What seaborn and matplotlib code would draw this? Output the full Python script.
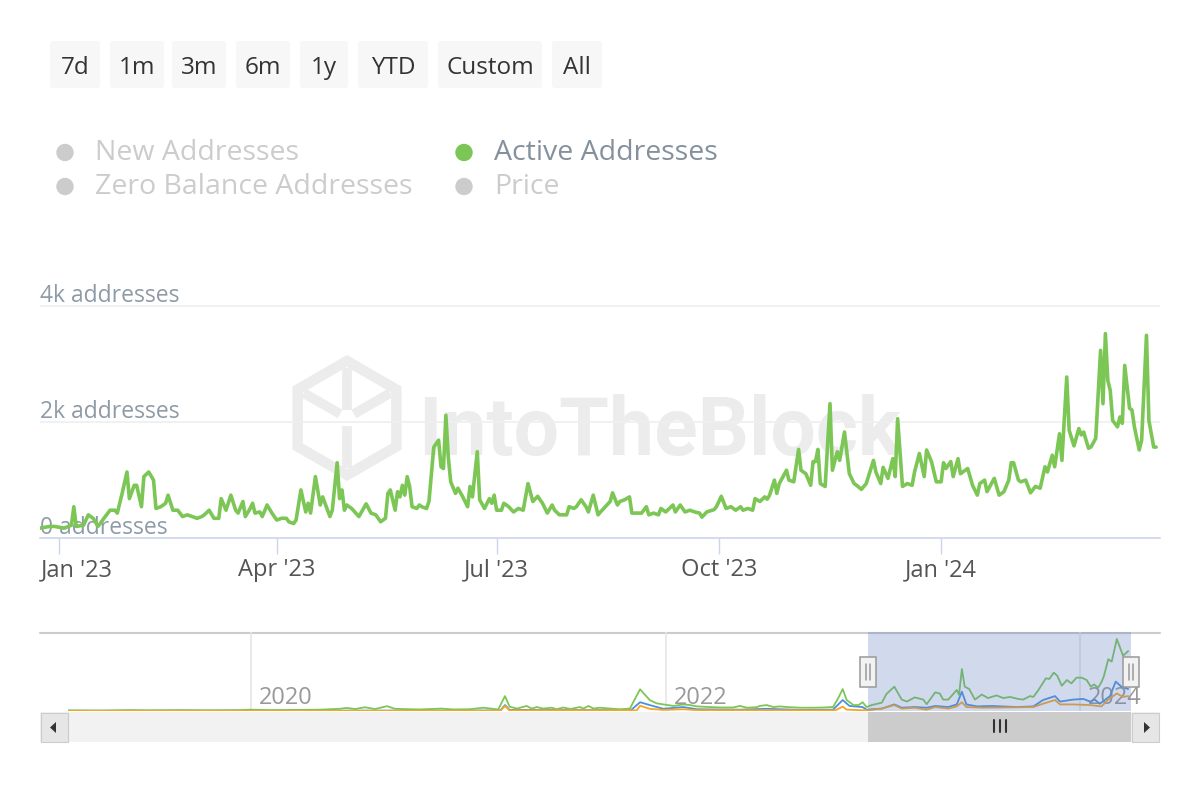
import pandas as pd
import matplotlib
matplotlib.use('Agg')
import matplotlib.pyplot as plt
from matplotlib.patches import FancyBboxPatch, Rectangle, Circle, Polygon, RegularPolygon
from matplotlib.transforms import ScaledTranslation
import numpy as np
import seaborn as sns

# ---- values ----
# main chart: days since 2022-12-24 -> active addresses
main_start = pd.Timestamp('2022-12-24')
active_day = [0, 4, 6, 10, 13, 14, 15, 18, 20, 22, 24, 27, 29, 31, 32, 34, 36, 37, 39, 40,
              42, 43, 45, 47, 48, 50, 52, 53, 55, 57, 59, 61, 63, 65, 67, 68, 70, 72, 74, 75,
              77, 79, 81, 82, 84, 85, 87, 88, 89, 91, 92, 94, 96, 98,
              100, 102, 103, 105, 106, 108, 110, 111, 112, 114, 116, 117, 120, 121, 123, 124,
              125, 126, 127, 129, 132, 135, 137, 139, 141, 143, 144, 145, 147, 148, 149, 150,
              151, 152, 153, 154, 156, 157, 158, 160, 161, 163, 165, 166, 167, 168, 169, 170,
              172, 173, 175, 177, 178, 179, 181, 182, 184, 186, 187, 188, 189, 191, 192,
              194, 196, 198, 200, 202, 204, 206, 208, 210, 212, 213, 215, 218, 219, 221, 222,
              224, 226, 227, 229, 231, 232, 234, 236, 237, 239, 240, 242, 244, 245, 247, 249,
              251, 252, 254, 256, 257, 259, 262, 263, 265, 267, 269, 271, 273, 274, 276, 279,
              280, 282, 284, 286,
              288, 290, 291, 293, 295, 296, 298, 300, 301, 302, 304, 305, 306, 309, 310, 312,
              314, 315, 317, 319, 320, 321, 322, 323, 325, 327, 328, 330, 331, 333, 335, 337,
              338, 340, 342, 345, 346, 348, 349, 351, 353, 354, 355, 357, 359, 361, 362, 364,
              366, 367, 369, 371, 373,
              374, 375, 377, 378, 380, 381, 384, 386, 388, 389, 391, 392, 395, 397, 399, 401,
              402, 403, 405, 406, 408, 410, 412, 414, 416, 417, 419, 420, 422, 423, 425, 426,
              428, 430, 431, 432, 434, 435, 437, 439, 440, 441, 442, 443, 444, 446, 447, 448,
              449, 451, 452, 453, 455, 456, 458, 459, 461, 462]
active_addr = [170, 200, 200, 170, 220, 540, 200, 220, 400, 340, 200, 370, 480, 480, 430, 770, 1140, 680, 910, 910,
               540, 1060, 1140, 1000, 510, 540, 600, 740, 480, 480, 370, 400, 370, 340, 370, 400, 480, 340, 340, 680,
               480, 740, 480, 430, 630, 370, 510, 600, 430, 450, 370, 570, 430, 310,
               340, 340, 280, 250, 310, 830, 450, 600, 430, 1060, 570, 710, 370, 480, 1300, 680,
               830, 480, 570, 510, 370, 590, 430, 400, 280, 340, 770, 830, 480, 800, 710, 910,
               740, 1060, 890, 540, 510, 570, 540, 510, 630, 1570, 1690, 1230, 1200, 2120, 1400, 970,
               770, 860, 710, 540, 890, 710, 1490, 660, 510, 680, 600, 740, 480, 480, 600,
               540, 450, 510, 480, 940, 630, 720, 600, 430, 570, 480, 400, 400, 540, 510, 540,
               660, 540, 450, 740, 400, 450, 540, 630, 780, 570, 630, 660, 710, 430, 430, 430,
               540, 400, 430, 400, 510, 450, 570, 450, 570, 450, 480, 450, 430, 360, 450, 490,
               540, 720, 510, 540,
               480, 540, 480, 510, 480, 680, 630, 710, 670, 740, 1000, 770, 940, 1170, 1000, 970,
               1530, 1170, 1110, 910, 1320, 1320, 1530, 940, 890, 2320, 1170, 1490, 1340, 1830, 1110, 940,
               910, 840, 940, 1340, 1140, 940, 1220, 1030, 1370, 1060, 2060, 890, 940, 910, 1140, 1460,
               1060, 1520, 1320, 970, 970,
               1300, 1200, 1320, 1060, 1370, 1110, 1200, 910, 740, 940, 1000, 800, 1030, 740, 800, 1000,
               1300, 1300, 1000, 970, 1000, 780, 890, 860, 1230, 1140, 1430, 1230, 1800, 1340, 2780, 1860,
               1590, 1890, 1780, 1830, 1550, 1570, 1720, 3240, 2320, 3530, 2720, 2550, 2030, 1920, 2090, 1980,
               2980, 2240, 2210, 1920, 1520, 1690, 3500, 2030, 1570, 1570]

# navigator (full history): days since 2020-01-01
nav_origin = pd.Timestamp('2020-01-01')
nav_green_day = [-322, -265, -213, -177, -124, -72, -19, 0, 34, 87, 122, 157, 169, 184, 201, 219, 240, 254, 281, 298,
                 336, 357, 386, 410, 436, 448, 456, 469, 486, 495, 504, 515, 530, 539, 551, 563, 580, 586, 595, 604,
                 615, 633, 651, 668, 686, 703, 715, 727, 745, 762, 774, 786, 809, 827, 850, 862, 874, 891, 897, 909,
                 921, 932, 944, 968, 991, 1009, 1026, 1035, 1043, 1050, 1062, 1071, 1078, 1085, 1094, 1112, 1120, 1134,
                 1147, 1156, 1170, 1185, 1191, 1206, 1214, 1220, 1229, 1244, 1248, 1253, 1258, 1266, 1276, 1288, 1299,
                 1314, 1326, 1338, 1352, 1361, 1373, 1379, 1388, 1401, 1407, 1415, 1421, 1429, 1438, 1446, 1455, 1464,
                 1473, 1480, 1486, 1493, 1499, 1503, 1511, 1517, 1526, 1537, 1546]
nav_green = [30, 20, 40, 30, 40, 30, 40, 60, 40, 50, 60, 100, 140, 90, 170, 90, 220, 100, 80, 70,
             110, 70, 80, 150, 70, 680, 200, 110, 230, 110, 180, 110, 150, 80, 160, 90, 180, 110, 230, 110,
             150, 110, 80, 110, 990, 500, 350, 300, 230, 300, 270, 210, 180, 160, 160, 230, 150, 170, 230, 270,
             180, 210, 180, 150, 150, 160, 180, 580, 1000, 500, 270, 270, 400, 180, 270, 380, 770, 1110,
             520, 430, 620, 520, 310, 850, 800, 520, 520, 960, 730, 1910, 1110, 1000, 520, 750, 590,
             710, 590, 640, 550, 520, 680, 640, 960, 1490, 1460, 1750, 1610, 1150, 1410, 1260, 1520, 1520,
             1410, 1110, 1210, 1060, 1320, 1570, 2360, 2250, 3280, 2520, 2730]
nav_blue_day = [-322, 400, 440, 448, 456, 600, 670, 686, 703, 727, 762, 786, 862, 909, 968, 1026, 1043, 1055,
                1078, 1085, 1112, 1134, 1147, 1170, 1191, 1206, 1229, 1244, 1253, 1261, 1280, 1305, 1350, 1379,
                1396, 1417, 1426, 1449, 1467, 1479, 1487, 1496, 1514, 1524, 1534, 1546]
nav_blue = [10, 20, 30, 270, 50, 40, 40, 400, 270, 100, 180, 80, 60, 100, 50, 60, 500, 230,
            180, 60, 110, 300, 150, 180, 150, 230, 180, 300, 880, 300, 210, 230, 180, 210,
            500, 680, 430, 520, 550, 430, 520, 330, 680, 1340, 1110, 1000]
nav_orange_day = [-322, 440, 448, 456, 680, 686, 703, 727, 762, 786, 1030, 1043, 1050, 1085, 1112, 1134, 1147,
                  1170, 1191, 1206, 1229, 1244, 1253, 1261, 1290, 1326, 1379, 1396, 1417, 1426, 1449, 1479,
                  1499, 1511, 1526, 1537, 1546]
nav_orange = [5, 10, 230, 30, 30, 240, 100, 50, 80, 40, 30, 200, 60, 30, 110, 270, 110,
              150, 60, 180, 110, 210, 400, 180, 150, 160, 180, 330, 500, 300, 300, 270,
              210, 520, 800, 640, 680]

range_buttons = ['7d', '1m', '3m', '6m', '1y', 'YTD', 'Custom', 'All']
legend_labels = ['New Addresses', 'Zero Balance Addresses', 'Active Addresses', 'Price']
legend_active = [False, False, True, False]
x_tick_dates = ['2023-01-01', '2023-04-01', '2023-07-01', '2023-10-01', '2024-01-01']
x_tick_labels = ["Jan '23", "Apr '23", "Jul '23", "Oct '23", "Jan '24"]
y_ticks = [0, 2000, 4000]
y_tick_labels = ['0 addresses', '2k addresses', '4k addresses']
nav_tick_dates = ['2020-01-01', '2022-01-01', '2024-01-01']
nav_tick_labels = ['2020', '2022', '2024']

GREEN = '#7cc656'
BLUE = '#4a8fe2'
ORANGE = '#f5a623'
MASK = (102 / 255, 133 / 255, 194 / 255)

sns.set_style('white')
plt.rcParams['font.family'] = ['Open Sans', 'DejaVu Sans']

W, H = 1200, 800
fig = plt.figure(figsize=(W / 100, H / 100), dpi=100)


def px_axes(x0, y0, x1, y1, **kw):
    return fig.add_axes([x0 / W, 1 - y1 / H, (x1 - x0) / W, (y1 - y0) / H], **kw)


def shift(label, dx, dy):
    # move a text by dx, dy pixels (dy positive = down)
    label.set_transform(label.get_transform() +
                        ScaledTranslation(dx / 100, -dy / 100, fig.dpi_scale_trans))


# background layer in pixel coordinates (buttons, legend, watermark, scrollbar)
bg = px_axes(0, 0, W, H, zorder=-1)
bg.set_xlim(0, W)
bg.set_ylim(H, 0)
bg.axis('off')

btn_spans = [(50, 100), (110, 164), (172, 226), (236, 290), (300, 348), (358, 428), (438, 542), (552, 602)]
for name, (bx0, bx1) in zip(range_buttons, btn_spans):
    bg.add_patch(FancyBboxPatch((bx0, 41), bx1 - bx0, 47, boxstyle='round,pad=0,rounding_size=3',
                                fc='#f7f7f7', ec='none'))
    bg.text((bx0 + bx1) / 2, 74, name, ha='center', va='baseline', fontsize=17.5, color='#333333')

leg_spots = [(65, 152.5), (65, 186.5), (464, 152.5), (464, 186.5)]
for name, on, (cx, cy) in zip(legend_labels, legend_active, leg_spots):
    bg.add_patch(Circle((cx, cy), 8.7, fc=GREEN if on else '#cccccc', ec='none'))
    bg.text(cx + 30, cy + 7.5, name, va='baseline', fontsize=20.5,
            color='#84919d' if on else '#cccccc')

# watermark logo + name
wm = '#ececec'
lc = (347, 418)
bg.add_patch(RegularPolygon(lc, numVertices=6, radius=57, fc='none', ec=wm, lw=7.5))
for ang in np.deg2rad([90, 150, 30, 270]):
    bg.plot([lc[0] + 8 * np.cos(ang), lc[0] + 50 * np.cos(ang)],
            [lc[1] - 8 * np.sin(ang), lc[1] - 50 * np.sin(ang)], color=wm, lw=7, solid_capstyle='butt')
bg.text(418, 455, 'IntoTheBlock', fontsize=58, fontweight='bold', color=wm, va='baseline',
        family=['Roboto', 'DejaVu Sans'])

# navigator top line
bg.plot([40, 1160], [632.5, 632.5], color='#cccccc', lw=1.5)

# scrollbar
bg.add_patch(Rectangle((40, 712), 1120, 29.5, fc='#f2f2f2', ec='none'))
bg.add_patch(Rectangle((868, 712), 263, 29.5, fc='#cccccc', ec='none'))
for bx in (40.5, 1131.5):
    bg.add_patch(Rectangle((bx, 712.5), 27, 29, fc='#e6e6e6', ec='#cccccc', lw=0.8))
bg.add_patch(Polygon([[56, 722], [56, 733], [50, 727.5]], closed=True, fc='#333333', ec='none'))
bg.add_patch(Polygon([[1144, 722], [1144, 733], [1150, 727.5]], closed=True, fc='#333333', ec='none'))
for gx in (994, 1000, 1006):
    bg.plot([gx, gx], [720, 732], color='#333333', lw=1.5)

# ---- main chart ----
ax = px_axes(40, 300, 1160, 538)
ax.set_facecolor('none')
df = pd.DataFrame({'date': main_start + pd.to_timedelta(active_day, unit='D'), 'active': active_addr})
sns.lineplot(data=df, x='date', y='active', ax=ax, color=GREEN, linewidth=2.6)
main_end = main_start + pd.Timedelta(days=463.6)
ax.set_xlim(main_start, main_end)
ax.set_ylim(0, 4110)
ax.set_xlabel('')
ax.set_ylabel('')
for s in ('top', 'right', 'left'):
    ax.spines[s].set_visible(False)
ax.spines['bottom'].set_color('#ccd6eb')
ax.spines['bottom'].set_linewidth(1.2)
ax.set_axisbelow(True)
ax.grid(axis='y', color='#efefef', lw=1.2)
ax.grid(axis='x', visible=False)

ax.set_yticks(y_ticks)
ax.set_yticklabels(y_tick_labels)
ax.tick_params(axis='y', length=0, pad=0, labelsize=16.5, labelcolor='#8e9aa6')
for lab in ax.get_yticklabels():
    lab.set_ha('left')
    lab.set_va('baseline')
    shift(lab, 0, -4)

ax.set_xticks(pd.to_datetime(x_tick_dates))
ax.set_xticklabels(x_tick_labels)
ax.tick_params(axis='x', length=11.5, width=1, color='#ccd6eb', labelsize=17,
               labelcolor='#555555', pad=3, bottom=True)
first = ax.get_xticklabels()[0]
first.set_ha('left')
shift(first, -18, 0)

# ---- navigator ----
nav = px_axes(68, 632, 1131, 711)
nav.set_facecolor('none')
for days, vals, col in [(nav_blue_day, nav_blue, BLUE),
                        (nav_green_day, nav_green, GREEN),
                        (nav_orange_day, nav_orange, ORANGE)]:
    d = pd.DataFrame({'date': nav_origin + pd.to_timedelta(days, unit='D'), 'v': vals})
    sns.lineplot(data=d, x='date', y='v', ax=nav, color=col, linewidth=1.3)
nav.set_xlim(nav_origin + pd.Timedelta(days=-322), nav_origin + pd.Timedelta(days=1551))
nav.set_ylim(0, 3600)
nav.set_xlabel('')
nav.set_ylabel('')
for s in nav.spines.values():
    s.set_visible(False)
nav.set_yticks([])
nav.set_xticks(pd.to_datetime(nav_tick_dates))
nav.set_xticklabels(nav_tick_labels)
nav.grid(axis='x', color='#e6e6e6', lw=1.2)
nav.tick_params(axis='x', length=0, pad=0, labelsize=17, labelcolor='#999999')
for lab in nav.get_xticklabels():
    lab.set_ha('left')
    lab.set_va('baseline')
    shift(lab, 8, -7)
nav.axvspan(main_start, main_end, color=MASK, alpha=0.3, lw=0, zorder=5)

# navigator handles on top
ov = px_axes(0, 0, W, H, zorder=10)
ov.set_xlim(0, W)
ov.set_ylim(H, 0)
ov.axis('off')
for hx in (868, 1131):
    ov.add_patch(Rectangle((hx - 8, 657), 16, 30, fc='#f2f2f2', ec='#999999', lw=1.1))
    for gx in (hx - 2, hx + 2):
        ov.plot([gx, gx], [664, 680], color='#999999', lw=1.1)

fig.savefig('out.png', dpi=100, facecolor='white')
